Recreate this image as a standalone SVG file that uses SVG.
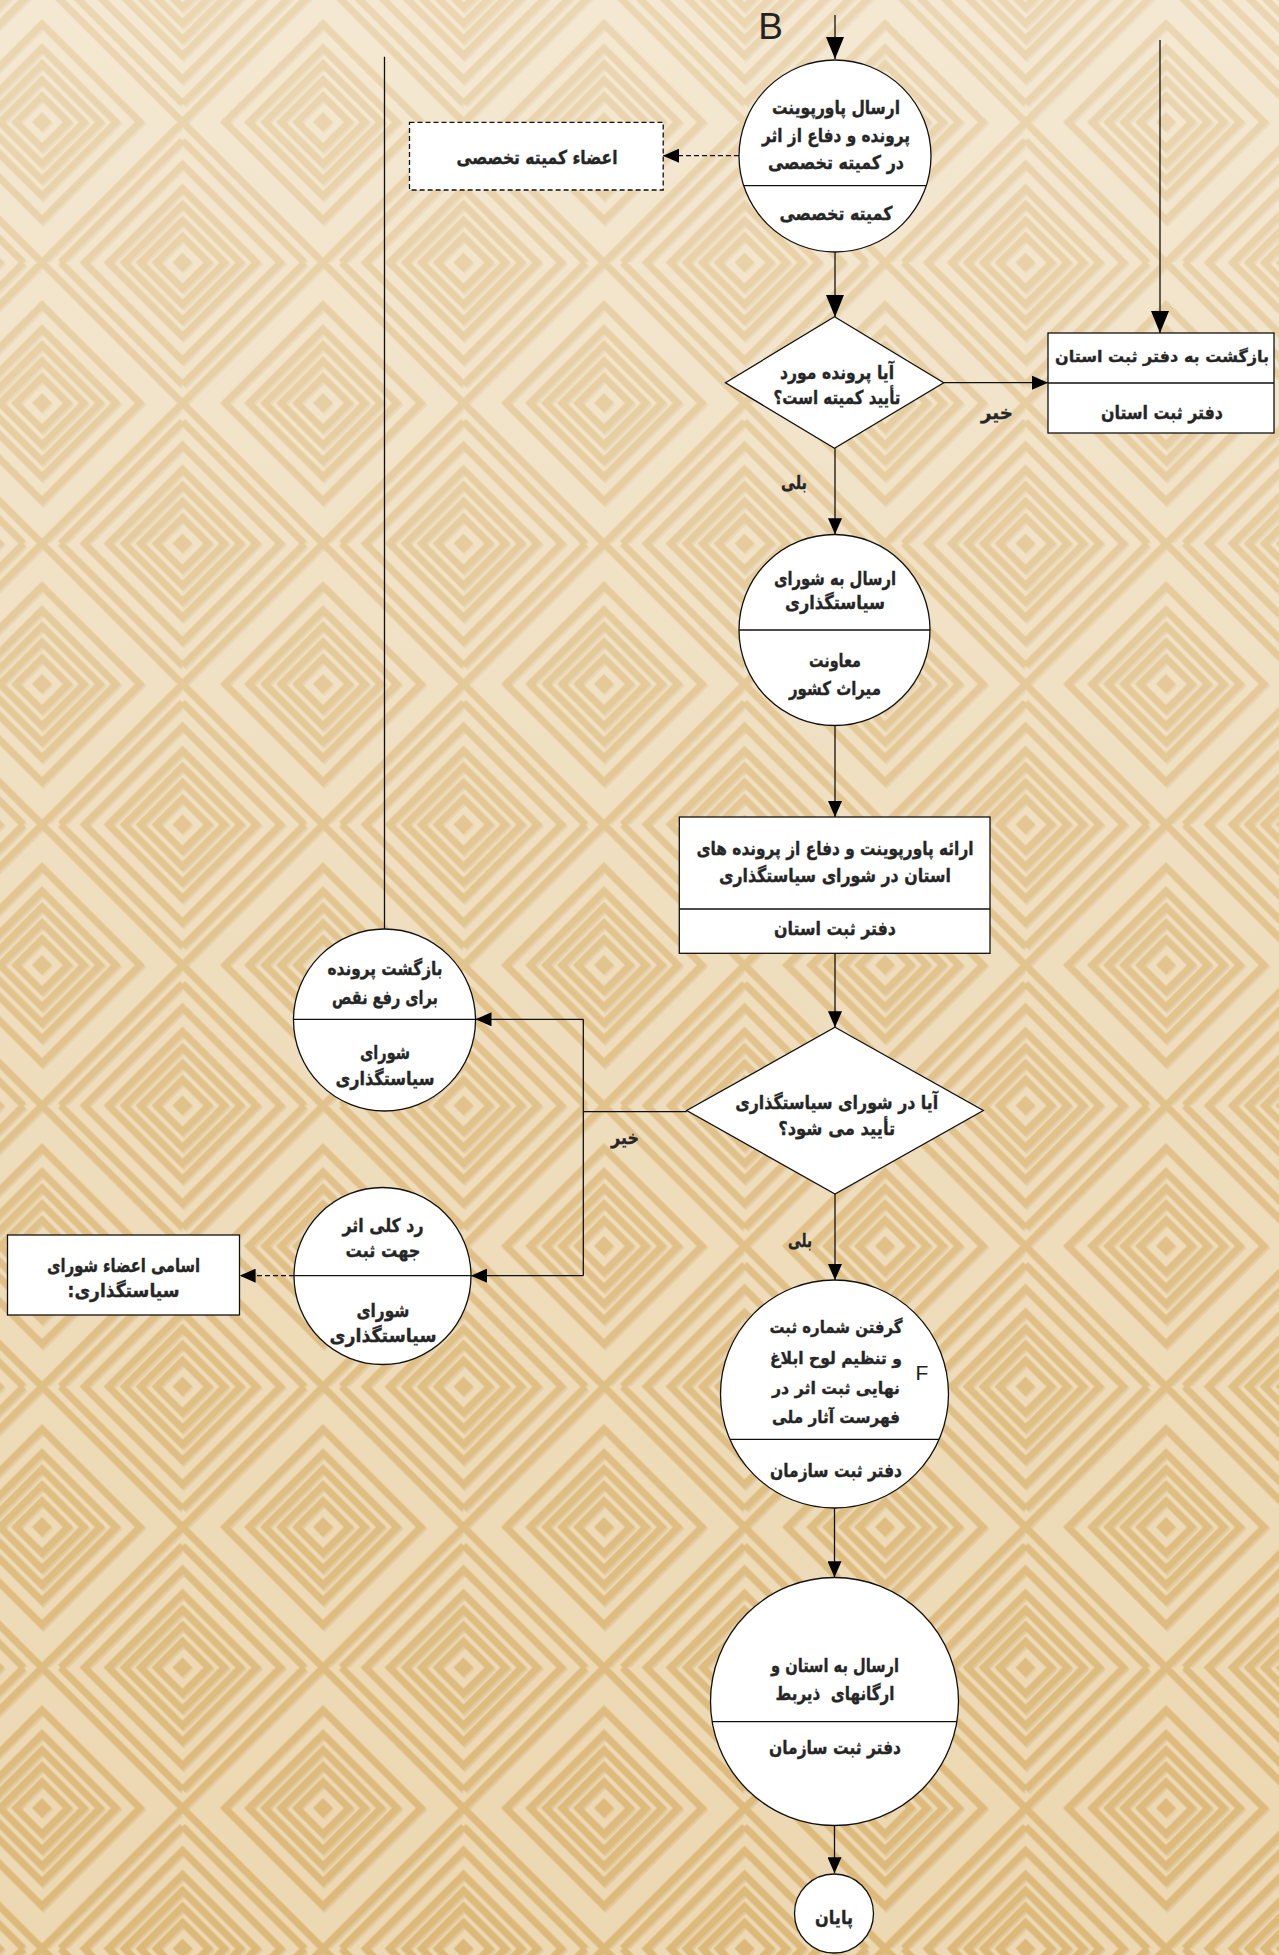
<svg xmlns="http://www.w3.org/2000/svg" xmlns:xlink="http://www.w3.org/1999/xlink" width="1279" height="1955" viewBox="0 0 1279 1955">
<style>
.shape{fill:#fff;stroke:#111;stroke-width:1.3}
.div{stroke:#111;stroke-width:1.3}
.t{font-family:"DejaVu Sans",sans-serif;font-weight:bold;font-size:19px;fill:#262626;stroke:#262626;stroke-width:0.35;text-anchor:middle;dominant-baseline:central;direction:rtl}
.lbl{font-family:"DejaVu Sans",sans-serif;font-weight:bold;font-size:19px;fill:#262626;stroke:#262626;stroke-width:0.35;text-anchor:middle;dominant-baseline:central;direction:rtl}
.lat{font-family:"Liberation Sans",Arial,sans-serif;fill:#222}
.c{fill:none;stroke:#111;stroke-width:1.3}
.dash{stroke-dasharray:5,3}
.pl{fill:none;stroke:#DDB979;stroke-width:7}
.ps{fill:none;stroke:#C9A874;stroke-width:7;opacity:.35}
</style>
<defs>
<g id="dm">
<path d="M0,-10 L10,0 L0,10 L-10,0 Z" fill="#DDB979" stroke="none"/>
<path d="M0,-26 L26,0 L0,26 L-26,0 Z M0,-42 L42,0 L0,42 L-42,0 Z M0,-58 L58,0 L0,58 L-58,0 Z M0,-74 L74,0 L0,74 L-74,0 Z M0,-98 L98,0 L0,98 L-98,0 Z"/>
</g>
<pattern id="bg" x="-98.5" y="-18.5" width="281" height="281" patternUnits="userSpaceOnUse">
<rect width="281" height="281" fill="#ECD8B2"/>
<g class="ps" transform="translate(1.5,2)">
<use xlink:href="#dm" x="140.5" y="140.5"/><use xlink:href="#dm" x="0" y="0"/><use xlink:href="#dm" x="281" y="0"/><use xlink:href="#dm" x="0" y="281"/><use xlink:href="#dm" x="281" y="281"/>
<path d="M0,140.5 L140.5,0 L281,140.5 L140.5,281 Z M0,122 L122,0 M159,0 L281,122 M281,159 L159,281 M122,281 L0,159"/>
</g>
<g class="pl">
<use xlink:href="#dm" x="140.5" y="140.5"/><use xlink:href="#dm" x="0" y="0"/><use xlink:href="#dm" x="281" y="0"/><use xlink:href="#dm" x="0" y="281"/><use xlink:href="#dm" x="281" y="281"/>
<path d="M0,140.5 L140.5,0 L281,140.5 L140.5,281 Z M0,122 L122,0 M159,0 L281,122 M281,159 L159,281 M122,281 L0,159"/>
</g>
</pattern>
<linearGradient id="fade" x1="0" y1="0" x2="0" y2="1">
<stop offset="0" stop-color="#fff" stop-opacity="0.42"/>
<stop offset="0.5" stop-color="#fff" stop-opacity="0.15"/>
<stop offset="1" stop-color="#fff" stop-opacity="0"/>
</linearGradient>
<marker id="ab" markerWidth="22" markerHeight="18" refX="22" refY="9" orient="auto" markerUnits="userSpaceOnUse"><path d="M0,0 L22,9 L0,18 Z" fill="#000"/></marker>
<marker id="an" markerWidth="16" markerHeight="14" refX="16" refY="7" orient="auto" markerUnits="userSpaceOnUse"><path d="M0,0 L16,7 L0,14 Z" fill="#000"/></marker>
</defs>

<rect width="1279" height="1955" fill="url(#bg)"/>
<rect width="1279" height="1955" fill="url(#fade)"/>

<g id="connectors">
<line class="c" x1="835" y1="15" x2="835" y2="59" marker-end="url(#ab)"/>
<line class="c dash" x1="739" y1="155.7" x2="663" y2="155.7" marker-end="url(#an)"/>
<line class="c" x1="835" y1="252" x2="835" y2="317" marker-end="url(#ab)"/>
<line class="c" x1="943.7" y1="382.7" x2="1048" y2="382.7" marker-end="url(#an)"/>
<line class="c" x1="1160" y1="40" x2="1160" y2="333" marker-end="url(#ab)"/>
<line class="c" x1="835" y1="448.3" x2="835" y2="534.3" marker-end="url(#an)"/>
<line class="c" x1="835" y1="725.7" x2="835" y2="817" marker-end="url(#an)"/>
<line class="c" x1="835" y1="953.3" x2="835" y2="1027.3" marker-end="url(#an)"/>
<polyline class="c" points="686.7,1111.7 583.3,1111.7"/>
<line class="c" x1="583.3" y1="1019.3" x2="583.3" y2="1275.7"/>
<line class="c" x1="583.3" y1="1019.3" x2="475.5" y2="1019.3" marker-end="url(#an)"/>
<line class="c" x1="583.3" y1="1275.7" x2="471" y2="1275.7" marker-end="url(#an)"/>
<line class="c" x1="835" y1="1194" x2="835" y2="1280" marker-end="url(#an)"/>
<line class="c dash" x1="294" y1="1275.7" x2="239.6" y2="1275.7" marker-end="url(#an)"/>
<line class="c" x1="384.5" y1="929" x2="384.5" y2="56.7"/>
<line class="c" x1="834.5" y1="1508" x2="834.5" y2="1577.3" marker-end="url(#an)"/>
<line class="c" x1="834.5" y1="1825.7" x2="834.5" y2="1873.3" marker-end="url(#an)"/>
<text class="lbl" x="997" y="412" textLength="32" lengthAdjust="spacingAndGlyphs">خیر</text>
<text class="lbl" x="794" y="481.7" textLength="26" lengthAdjust="spacingAndGlyphs">بلی</text>
<text class="lbl" x="625" y="1137.3" textLength="28" lengthAdjust="spacingAndGlyphs">خیر</text>
<text class="lbl" x="800" y="1240" textLength="24" lengthAdjust="spacingAndGlyphs">بلی</text>
</g>

<g id="label-B"><text class="lat" x="770.5" y="39" font-size="37" text-anchor="middle">B</text></g>

<g id="n1">
<circle class="shape" cx="835" cy="156" r="96"/>
<line class="div" x1="743.7" y1="185.7" x2="926.3" y2="185.7"/>
<text class="t" x="836" y="106.7" textLength="128" lengthAdjust="spacingAndGlyphs">ارسال پاورپوینت</text>
<text class="t" x="836" y="135" textLength="148" lengthAdjust="spacingAndGlyphs">پرونده و دفاع از اثر</text>
<text class="t" x="836" y="161.7" textLength="136" lengthAdjust="spacingAndGlyphs">در کمیته تخصصی</text>
<text class="t" x="836" y="213" textLength="113" lengthAdjust="spacingAndGlyphs">کمیته تخصصی</text>
</g>

<g id="members">
<rect class="shape dash" x="409.5" y="122.3" width="253.7" height="67.7"/>
<text class="t" x="537" y="156.7" textLength="161" lengthAdjust="spacingAndGlyphs">اعضاء کمیته تخصصی</text>
</g>

<g id="d1">
<polygon class="shape" points="834.5,316.7 943.7,382.7 834.5,448.3 725.5,382.7"/>
<text class="t" x="837" y="371.7" textLength="114" lengthAdjust="spacingAndGlyphs">آیا پرونده مورد</text>
<text class="t" x="837" y="396.7" textLength="127" lengthAdjust="spacingAndGlyphs">تأیید کمیته است؟</text>
</g>

<g id="return-province">
<rect class="shape" x="1048" y="333" width="226" height="100"/>
<line class="div" x1="1048" y1="383" x2="1274" y2="383"/>
<text class="t" x="1162" y="356.7" font-size="16" style="font-size:16px" textLength="214" lengthAdjust="spacingAndGlyphs">بازگشت به دفتر ثبت استان</text>
<text class="t" x="1162" y="411.7" textLength="122" lengthAdjust="spacingAndGlyphs">دفتر ثبت استان</text>
</g>

<g id="n3">
<circle class="shape" cx="834.5" cy="630" r="95.5"/>
<line class="div" x1="739" y1="630" x2="930" y2="630"/>
<text class="t" x="835" y="578.3" textLength="122" lengthAdjust="spacingAndGlyphs">ارسال به شورای</text>
<text class="t" x="835" y="601.7" textLength="100" lengthAdjust="spacingAndGlyphs">سیاستگذاری</text>
<text class="t" x="835" y="660" textLength="52" lengthAdjust="spacingAndGlyphs">معاونت</text>
<text class="t" x="835" y="688.3" textLength="92" lengthAdjust="spacingAndGlyphs">میراث کشور</text>
</g>

<g id="present">
<rect class="shape" x="679.3" y="817" width="310.7" height="136.3"/>
<line class="div" x1="679.3" y1="909" x2="990" y2="909"/>
<text class="t" x="835" y="848.3" textLength="277" lengthAdjust="spacingAndGlyphs">ارائه پاورپوینت و دفاع از پرونده های</text>
<text class="t" x="835" y="875" textLength="232" lengthAdjust="spacingAndGlyphs">استان در شورای سیاستگذاری</text>
<text class="t" x="835" y="928.3" textLength="122" lengthAdjust="spacingAndGlyphs">دفتر ثبت استان</text>
</g>

<g id="d2">
<polygon class="shape" points="835,1027.3 983.3,1110.5 835,1194 686.7,1110.5"/>
<text class="t" x="836.7" y="1101.7" textLength="203" lengthAdjust="spacingAndGlyphs">آیا در شورای سیاستگذاری</text>
<text class="t" x="836.7" y="1128.3" textLength="117" lengthAdjust="spacingAndGlyphs">تأیید می شود؟</text>
</g>

<g id="back">
<circle class="shape" cx="384.5" cy="1020" r="91"/>
<line class="div" x1="293.5" y1="1019.3" x2="475.5" y2="1019.3"/>
<text class="t" x="385" y="968.3" textLength="115" lengthAdjust="spacingAndGlyphs">بازگشت پرونده</text>
<text class="t" x="385" y="996.7" textLength="106" lengthAdjust="spacingAndGlyphs">برای رفع نقص</text>
<text class="t" x="385" y="1051.7" textLength="50" lengthAdjust="spacingAndGlyphs">شورای</text>
<text class="t" x="385" y="1078.3" textLength="99" lengthAdjust="spacingAndGlyphs">سیاستگذاری</text>
</g>

<g id="reject">
<circle class="shape" cx="382.5" cy="1276" r="88.5"/>
<line class="div" x1="294" y1="1275.7" x2="471" y2="1275.7"/>
<text class="t" x="383" y="1225" textLength="81" lengthAdjust="spacingAndGlyphs">رد کلی اثر</text>
<text class="t" x="383" y="1250" textLength="75" lengthAdjust="spacingAndGlyphs">جهت ثبت</text>
<text class="t" x="383" y="1310" textLength="53" lengthAdjust="spacingAndGlyphs">شورای</text>
<text class="t" x="383" y="1335" textLength="107" lengthAdjust="spacingAndGlyphs">سیاستگذاری</text>
</g>

<g id="names">
<rect class="shape" x="7.5" y="1235" width="232" height="80"/>
<text class="t" x="123.6" y="1265" textLength="153" lengthAdjust="spacingAndGlyphs">اسامی اعضاء شورای</text>
<text class="t" x="123.6" y="1290" textLength="112" lengthAdjust="spacingAndGlyphs">سیاستگذاری:</text>
</g>

<g id="final">
<circle class="shape" cx="834.5" cy="1394" r="114"/>
<line class="div" x1="730" y1="1439.3" x2="939" y2="1439.3"/>
<text class="t" x="836" y="1326.7" style="font-size:17px" textLength="133" lengthAdjust="spacingAndGlyphs">گرفتن شماره ثبت</text>
<text class="t" x="836" y="1358.3" style="font-size:17px" textLength="132" lengthAdjust="spacingAndGlyphs">و تنظیم لوح ابلاغ</text>
<text class="t" x="836" y="1388.3" style="font-size:17px" textLength="128" lengthAdjust="spacingAndGlyphs">نهایی ثبت اثر در</text>
<text class="t" x="836" y="1416.7" style="font-size:17px" textLength="128" lengthAdjust="spacingAndGlyphs">فهرست آثار ملی</text>
<text class="t" x="836" y="1470" textLength="132" lengthAdjust="spacingAndGlyphs">دفتر ثبت سازمان</text>
<text class="lat" x="922" y="1380" font-size="21" text-anchor="middle">F</text>
</g>

<g id="send">
<circle class="shape" cx="834.5" cy="1701.5" r="124"/>
<line class="div" x1="712" y1="1721.7" x2="957" y2="1721.7"/>
<text class="t" x="835" y="1665" textLength="128" lengthAdjust="spacingAndGlyphs">ارسال به استان و</text>
<text class="t" x="835" y="1693.3" xml:space="preserve" textLength="119" lengthAdjust="spacingAndGlyphs">ارگانهای  ذیربط</text>
<text class="t" x="835" y="1746.7" textLength="132" lengthAdjust="spacingAndGlyphs">دفتر ثبت سازمان</text>
</g>

<g id="end">
<circle class="shape" cx="834" cy="1913.5" r="39.5"/>
<text class="t" x="834" y="1916.7" textLength="38" lengthAdjust="spacingAndGlyphs">پایان</text>
</g>
</svg>
